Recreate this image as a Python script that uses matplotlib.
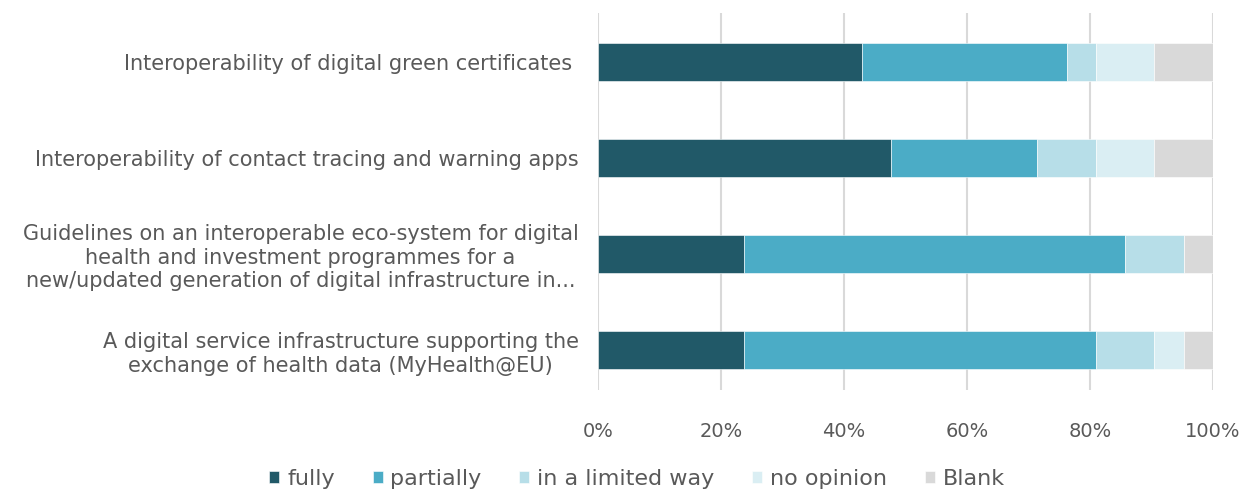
import matplotlib
matplotlib.use("Agg")
import matplotlib.pyplot as plt
import numpy as np

categories = [
    "Interoperability of digital green certificates ",
    "Interoperability of contact tracing and warning apps",
    "Guidelines on an interoperable eco-system for digital\nhealth and investment programmes for a\nnew/updated generation of digital infrastructure in...",
    "A digital service infrastructure supporting the\nexchange of health data (MyHealth@EU)",
]
series_names = ["fully", "partially", "in a limited way", "no opinion", "Blank"]
fully = [9, 10, 5, 5]
partially = [7, 5, 13, 12]
limited = [1, 2, 2, 2]
no_opinion = [2, 2, 0, 1]
blank = [2, 2, 1, 1]
colors = ["#215968", "#4BACC6", "#B7DEE8", "#DAEEF3", "#D9D9D9"]
xticks = [0, 0.2, 0.4, 0.6, 0.8, 1.0]
xticklabels = ["0%", "20%", "40%", "60%", "80%", "100%"]

data = np.array([fully, partially, limited, no_opinion, blank], dtype=float)
shares = data / data.sum(axis=0)

fig = plt.figure(figsize=(12.5, 4.9), dpi=100)
W, H = 1250, 490
x0, x1 = 598, 1213
ytop, ybot = 13, 390
ax = fig.add_axes([x0 / W, 1 - ybot / H, (x1 - x0) / W, (ybot - ytop) / H])

ypos = np.arange(len(categories))
left = np.zeros(len(categories))
for name, vals, col in zip(series_names, shares, colors):
    ax.barh(ypos, vals, left=left, height=0.4, color=col, label=name,
            edgecolor="white", linewidth=0.4, zorder=3)
    left += vals

# map centers: pixel = 62 + 96*i
ax.set_ylim((ybot - 62) / 96, (ytop - 62) / 96)
ax.set_xlim(0, 1)
ax.set_xticks(xticks)
ax.set_xticklabels(xticklabels)
ax.set_yticks(ypos)
ax.set_yticklabels(categories)
for lbl in ax.get_yticklabels():
    lbl.set_multialignment("center")
    lbl.set_linespacing(1.22)
ax.tick_params(axis="y", length=0, pad=14, labelsize=15, labelcolor="#595959")
ax.tick_params(axis="x", length=0, pad=23, labelsize=14, labelcolor="#595959")
for s in ax.spines.values():
    s.set_visible(False)
ax.xaxis.grid(True, color="#D9D9D9", linewidth=1.5, zorder=0)
ax.set_axisbelow(True)

fig.legend(loc="center", bbox_to_anchor=(637 / W, 1 - 479 / H), ncol=5,
           frameon=False, fontsize=16, labelcolor="#595959",
           handlelength=0.45, handleheight=0.45, handletextpad=0.35,
           columnspacing=1.7, borderaxespad=0, borderpad=0)

fig.savefig("out.png", dpi=100, facecolor="white")
